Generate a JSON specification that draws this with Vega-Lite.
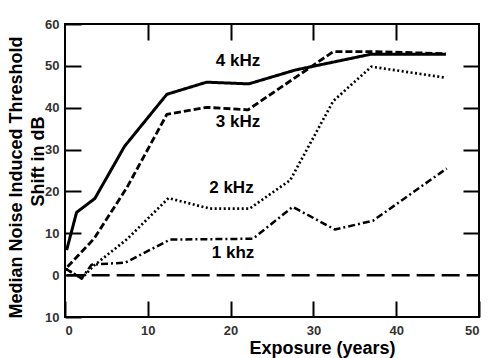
{
  "$schema": "https://vega.github.io/schema/vega-lite/v6.json",
  "width": 414,
  "height": 293,
  "autosize": "none",
  "padding": {"left": 65, "top": 24, "right": 23, "bottom": 41},
  "background": "white",
  "config": {
    "view": {"stroke": "black", "strokeWidth": 2},
    "axis": {
      "grid": false,
      "domain": false,
      "tickSize": -16,
      "tickWidth": 2,
      "tickColor": "black",
      "labelFont": "Liberation Sans",
      "labelFontWeight": "bold",
      "labelFontSize": 13,
      "labelColor": "#333",
      "titleFont": "Liberation Sans",
      "titleFontWeight": "bold",
      "titleFontSize": 18,
      "titleColor": "black"
    }
  },
  "datasets": {
    "curves": [
      {"series": "4 kHz", "years": 0.2, "shift": 6},
      {"series": "4 kHz", "years": 1.4, "shift": 15},
      {"series": "4 kHz", "years": 3.6, "shift": 18.3},
      {"series": "4 kHz", "years": 7.2, "shift": 30.8},
      {"series": "4 kHz", "years": 12.3, "shift": 43.2},
      {"series": "4 kHz", "years": 17.1, "shift": 46.1},
      {"series": "4 kHz", "years": 22.2, "shift": 45.7},
      {"series": "4 kHz", "years": 27.8, "shift": 49},
      {"series": "4 kHz", "years": 37, "shift": 52.8},
      {"series": "4 kHz", "years": 46, "shift": 52.8},
      {"series": "3 kHz", "years": 0.3, "shift": 2},
      {"series": "3 kHz", "years": 3.5, "shift": 8.7},
      {"series": "3 kHz", "years": 7.5, "shift": 21},
      {"series": "3 kHz", "years": 12.3, "shift": 38.4},
      {"series": "3 kHz", "years": 17.1, "shift": 40.1},
      {"series": "3 kHz", "years": 22.1, "shift": 39.5},
      {"series": "3 kHz", "years": 32.4, "shift": 53.4},
      {"series": "3 kHz", "years": 37.6, "shift": 53.4},
      {"series": "3 kHz", "years": 46, "shift": 52.9},
      {"series": "2 kHz", "years": 0.1, "shift": 1.5},
      {"series": "2 kHz", "years": 2, "shift": -0.8},
      {"series": "2 kHz", "years": 3.5, "shift": 2.3},
      {"series": "2 kHz", "years": 7.5, "shift": 8.6},
      {"series": "2 kHz", "years": 12.5, "shift": 18.4},
      {"series": "2 kHz", "years": 17.5, "shift": 15.9},
      {"series": "2 kHz", "years": 22.3, "shift": 15.9},
      {"series": "2 kHz", "years": 27.2, "shift": 22.7},
      {"series": "2 kHz", "years": 32.4, "shift": 41.6},
      {"series": "2 kHz", "years": 37, "shift": 49.8},
      {"series": "2 kHz", "years": 45.9, "shift": 47.2},
      {"series": "1 khz", "years": 0.1, "shift": 1.5},
      {"series": "1 khz", "years": 2, "shift": -0.8},
      {"series": "1 khz", "years": 3.2, "shift": 2.5},
      {"series": "1 khz", "years": 7.3, "shift": 3},
      {"series": "1 khz", "years": 12.7, "shift": 8.5},
      {"series": "1 khz", "years": 22.7, "shift": 8.7},
      {"series": "1 khz", "years": 27.5, "shift": 16.3},
      {"series": "1 khz", "years": 32.6, "shift": 10.9},
      {"series": "1 khz", "years": 37.2, "shift": 13},
      {"series": "1 khz", "years": 46.1, "shift": 25.5}
    ],
    "baseline": [
      {"years": 0.2, "shift": 0},
      {"years": 50, "shift": 0}
    ],
    "labels": [
      {"label": "4 kHz", "years": 20.9, "shift": 51.1},
      {"label": "3 kHz", "years": 20.9, "shift": 36.6},
      {"label": "2 kHz", "years": 20.1, "shift": 20.9},
      {"label": "1 khz", "years": 20.3, "shift": 5.3}
    ]
  },
  "layer": [
    {
      "data": {"name": "curves"},
      "mark": {"type": "line", "color": "black", "strokeCap": "butt", "strokeJoin": "round"},
      "encoding": {
        "x": {
          "field": "years", "type": "quantitative",
          "scale": {"domain": [0, 50], "nice": false, "zero": false},
          "axis": {
            "orient": "bottom",
            "values": [0, 10, 20, 30, 40, 50],
            "labelPadding": 23,
            "title": "Exposure (years)",
            "titleAnchor": "start",
            "titleX": 184,
            "titlePadding": 2
          }
        },
        "y": {
          "field": "shift", "type": "quantitative",
          "scale": {"domain": [-10, 60], "nice": false, "zero": false},
          "axis": {
            "orient": "left",
            "values": [-10, 0, 10, 20, 30, 40, 50, 60],
            "labelExpr": "datum.value < 0 ? '10' : datum.label",
            "labelPadding": 22,
            "title": "Shift in dB",
            "titleY": 137,
            "titlePadding": -3
          }
        },
        "detail": {"field": "series"},
        "strokeDash": {
          "field": "series", "type": "nominal", "legend": null,
          "scale": {
            "domain": ["4 kHz", "3 kHz", "2 kHz", "1 khz"],
            "range": [[1, 0], [7, 3], [2, 2.5], [7, 3, 2, 3]]
          }
        },
        "strokeWidth": {
          "field": "series", "type": "nominal", "legend": null,
          "scale": {
            "domain": ["4 kHz", "3 kHz", "2 kHz", "1 khz"],
            "range": [3, 2.5, 2.5, 2.2]
          }
        }
      }
    },
    {
      "data": {"name": "labels"},
      "mark": {"type": "text", "font": "Liberation Sans", "fontWeight": "bold", "fontSize": 17, "align": "center", "baseline": "middle", "color": "black"},
      "encoding": {
        "x": {
          "field": "years", "type": "quantitative",
          "axis": {"orient": "top", "values": [10, 20, 30, 40], "labels": false, "title": null}
        },
        "y": {
          "field": "shift", "type": "quantitative",
          "axis": {"orient": "left", "labels": false, "ticks": false, "title": "Median Noise Induced Threshold", "titleY": 153, "titlePadding": 40}
        },
        "text": {"field": "label"}
      }
    },
    {
      "data": {"name": "baseline"},
      "mark": {"type": "line", "color": "black", "strokeWidth": 2.5, "strokeDash": [18, 7], "strokeCap": "butt"},
      "encoding": {
        "x": {"field": "years", "type": "quantitative", "axis": null},
        "y": {
          "field": "shift", "type": "quantitative",
          "axis": {"orient": "right", "values": [10, 20, 30, 40, 50], "labels": false, "title": null}
        }
      }
    }
  ],
  "resolve": {"axis": {"x": "independent", "y": "independent"}}
}
